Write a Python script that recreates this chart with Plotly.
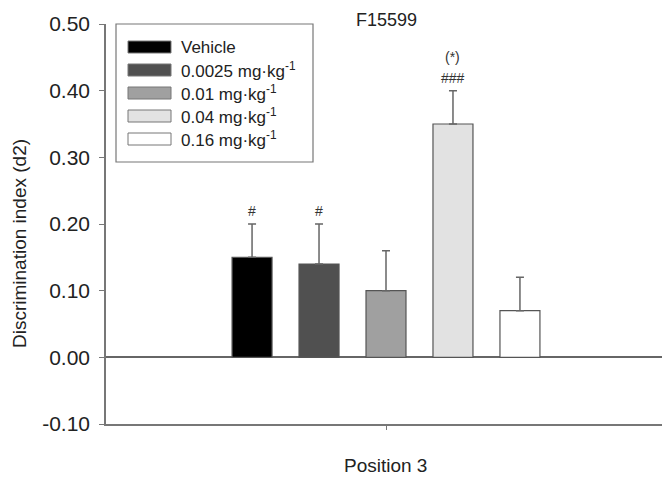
import plotly.graph_objects as go

# ---- data ----
groups = ["Vehicle", "0.0025", "0.01", "0.04", "0.16"]
legend_labels = ["Vehicle", "0.0025 mg·kg<sup>-1</sup>", "0.01 mg·kg<sup>-1</sup>",
                 "0.04 mg·kg<sup>-1</sup>", "0.16 mg·kg<sup>-1</sup>"]
category = ["Position 3"]
means = [0.15, 0.14, 0.10, 0.35, 0.07]
sems = [0.05, 0.06, 0.06, 0.05, 0.05]
marks = ["#", "#", "", "###", ""]
marks_top = ["", "", "", "(*)", ""]
colors = ["#000000", "#505050", "#a0a0a0", "#e2e2e2", "#ffffff"]
y_ticks = [-0.1, 0.0, 0.1, 0.2, 0.3, 0.4, 0.5]
y_ticktext = ["-0.10", "0.00", "0.10", "0.20", "0.30", "0.40", "0.50"]

# page has an 8px body margin; work in page pixels and convert
OFF = 8
W, H = 670 - OFF, 478 - OFF
PL, PR, PT, PB = 106, 666, 24, 424          # plot area in page pixels
L, T = PL - OFF, PT - OFF
R, B = W - (PR - OFF), H - (PB - OFF)
pw, ph = PR - PL, PB - PT

def px(X):
    return (X - PL) / pw

def py(Y):
    return (PB - Y) / ph

FONT = "Liberation Sans, Arial, sans-serif"
TXT = "#222222"

fig = go.Figure()
for g, m, s, c in zip(groups, means, sems, colors):
    fig.add_trace(go.Bar(
        x=category, y=[m], name=g,
        marker=dict(color=c, line=dict(color="#555555", width=1.2)),
        error_y=dict(type="data", array=[s], arrayminus=[0], symmetric=False,
                     color="#666666", thickness=1.5, width=4),
        showlegend=False,
    ))

fig.update_layout(
    width=W, height=H,
    margin=dict(l=L, r=R, t=T, b=B, autoexpand=False),
    barmode="group", bargap=0.402, bargroupgap=0.403,
    plot_bgcolor="white", paper_bgcolor="white",
    font=dict(family=FONT, color=TXT, size=20),
    showlegend=False,
)
fig.update_yaxes(range=[-0.1, 0.5], tickvals=y_ticks, ticktext=y_ticktext,
                 showgrid=False, showline=True, linecolor="#777777", linewidth=1.5,
                 ticks="outside", ticklen=5, tickcolor="#777777", tickwidth=1.2,
                 ticklabelstandoff=5,
                 zeroline=True, zerolinecolor="#666666", zerolinewidth=1.5,
                 automargin=False, tickfont=dict(size=21, family=FONT, color=TXT))
fig.update_xaxes(showgrid=False, showline=True, linecolor="#777777", linewidth=1.5,
                 ticks="outside", ticklen=4, tickcolor="#777777", showticklabels=False,
                 automargin=False)

# titles
fig.add_annotation(xref="paper", yref="paper", x=px(386), y=py(20), text="F15599",
                   showarrow=False, xanchor="center", yanchor="middle",
                   font=dict(size=18, family=FONT, color=TXT))
fig.add_annotation(xref="paper", yref="paper", x=px(385), y=py(465), text="Position 3",
                   showarrow=False, xanchor="center", yanchor="middle",
                   font=dict(size=19, family=FONT, color=TXT))
fig.add_annotation(xref="paper", yref="paper", x=px(19), y=py(244),
                   text="Discrimination index (d2)", textangle=-90,
                   showarrow=False, xanchor="center", yanchor="middle",
                   font=dict(size=19, family=FONT, color=TXT))

# significance marks above error bars
n = len(groups)
slot = (1 - 0.402) / n
for i, (m, s, mk, mt) in enumerate(zip(means, sems, marks, marks_top)):
    xoff = -0.5 + 0.201 + slot * (i + 0.5)
    if mk:
        fig.add_annotation(x=xoff, y=m + s, xref="x", yref="y", text=mk,
                           showarrow=False, yanchor="bottom", yshift=3,
                           font=dict(size=14, family=FONT, color="#333333"))
    if mt:
        fig.add_annotation(x=xoff, y=m + s, xref="x", yref="y", text=mt,
                           showarrow=False, yanchor="bottom", yshift=24,
                           font=dict(size=14, family=FONT, color="#333333"))

# custom legend
fig.add_shape(type="rect", xref="paper", yref="paper",
              x0=px(116), x1=px(313), y0=py(24), y1=py(162),
              line=dict(color="#777777", width=1.2), fillcolor="white")
for i, (lab, c) in enumerate(zip(legend_labels, colors)):
    yc = 47 + 23 * i
    fig.add_shape(type="rect", xref="paper", yref="paper",
                  x0=px(128), x1=px(171), y0=py(yc - 6), y1=py(yc + 6),
                  line=dict(color="#777777", width=1), fillcolor=c)
    fig.add_annotation(xref="paper", yref="paper", x=px(179), y=py(yc),
                       text=lab, showarrow=False, xanchor="left", yanchor="middle",
                       font=dict(size=17, family=FONT, color=TXT))

fig.write_html("out.html")
